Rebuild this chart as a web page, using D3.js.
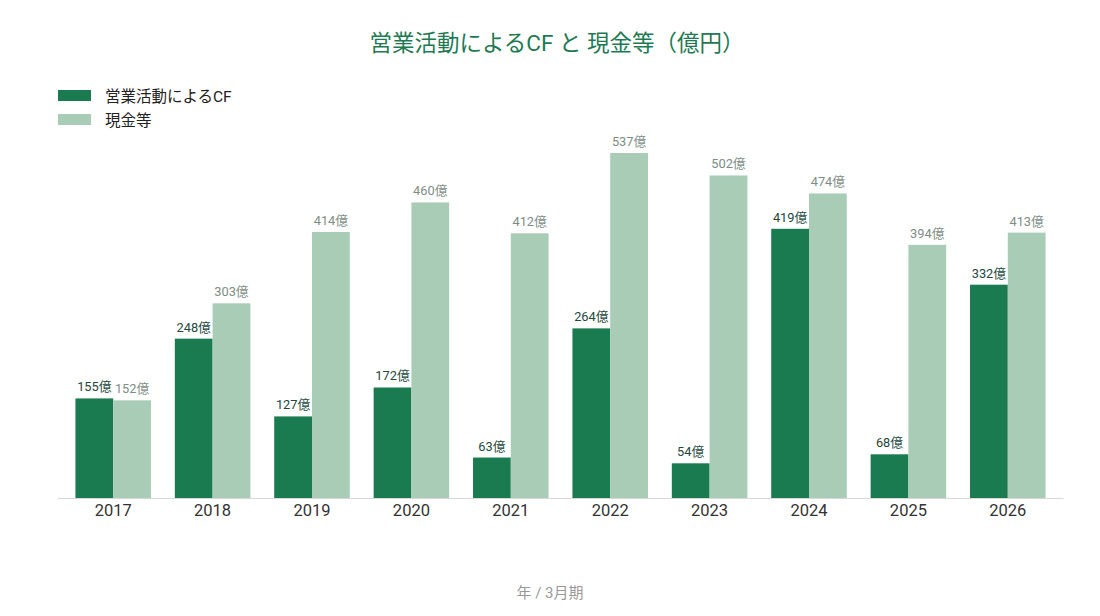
<!DOCTYPE html>
<html><head><meta charset="utf-8">
<script src="https://cdn.jsdelivr.net/npm/d3@7"></script>
<style>body{margin:0;background:#fff;font-family:Roboto,"Noto Sans CJK JP",sans-serif;}</style>
</head><body><svg id="c" width="1100" height="616"></svg>
<script>
const years = ["2017","2018","2019","2020","2021","2022","2023","2024","2025","2026"];
const operatingCF = [155,248,127,172,63,264,54,419,68,332];
const cash = [152,303,414,460,412,537,502,474,394,413];
const seriesNames = ["営業活動によるCF","現金等"];
const title = "営業活動によるCF と 現金等（億円）";
const xTitle = "年 / 3月期";

const svg = d3.select("#c");
const font = 'Roboto,"Noto Sans CJK JP",sans-serif';
const colors = ["#1b7b50","#a8ccb6"];
const labelColors = ["#24483c","#7d8d86"];

const y = d3.scaleLinear().domain([0,600]).range([498,112.5]);
const x0 = d3.scaleBand().domain(years).range([63.5,1057.5]).paddingInner(0.24).paddingOuter(0.12);
const x1 = d3.scaleBand().domain([0,1]).range([0,x0.bandwidth()]);

svg.append("text").attr("x",557).attr("y",51).attr("text-anchor","middle")
  .attr("font-family",font).attr("font-size",22.5).attr("fill","#1e7a52").text(title);

// legend
seriesNames.forEach((n,i)=>{
  svg.append("rect").attr("x",58).attr("y",90+i*24).attr("width",33).attr("height",11).attr("fill",colors[i]);
  svg.append("text").attr("x",105).attr("y",101.5+i*24).attr("font-family",font).attr("font-size",15.5).attr("fill","#222").text(n);
});

const data = [operatingCF,cash];
const g = svg.append("g");
data.forEach((vals,si)=>{
  g.selectAll(null).data(years).join("rect")
    .attr("x",d=>x0(d)+x1(si)).attr("width",x1.bandwidth())
    .attr("y",(d,i)=>y(vals[i])).attr("height",(d,i)=>y(0)-y(vals[i]))
    .attr("fill",colors[si]);
  g.selectAll(null).data(years).join("text")
    .attr("x",d=>x0(d)+x1(si)+x1.bandwidth()/2).attr("y",(d,i)=>y(vals[i])-7)
    .attr("text-anchor","middle").attr("font-family",font).attr("font-size",12.8)
    .attr("fill",labelColors[si]).text((d,i)=>vals[i]+"億");
});

// axis
const xAxis = svg.append("g").attr("transform","translate(0,498)")
  .call(d3.axisBottom(x0).tickSize(0).tickPadding(6));
xAxis.select(".domain").remove();
xAxis.selectAll("text").attr("font-family",font).attr("font-size",16.5).attr("fill","#333").attr("dy","0.75em");
svg.append("line").attr("x1",58).attr("x2",1063).attr("y1",498.5).attr("y2",498.5).attr("stroke","#d8d8d8");

svg.append("text").attr("x",550).attr("y",598).attr("text-anchor","middle")
  .attr("font-family",font).attr("font-size",15).attr("fill","#999").text(xTitle);
</script></body></html>
